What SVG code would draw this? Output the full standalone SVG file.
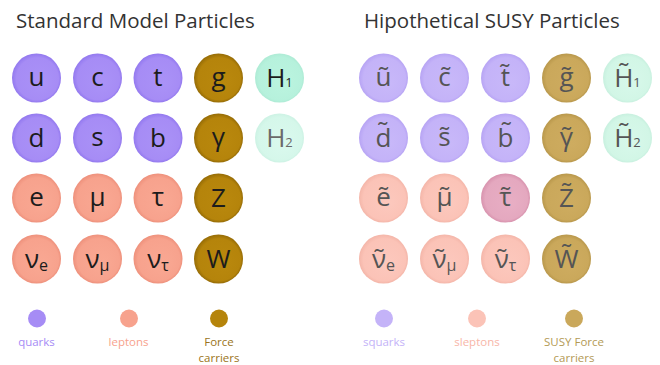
<svg xmlns="http://www.w3.org/2000/svg" width="660" height="365" viewBox="0 0 660 365">
<defs>
<radialGradient id="gq" cx="50%" cy="50%" r="50%" fx="64%" fy="62%"><stop offset="0" stop-color="#aa92f7"/><stop offset="0.86" stop-color="#a68cf5"/><stop offset="1" stop-color="#9379ef"/></radialGradient>
<radialGradient id="gl" cx="50%" cy="50%" r="50%" fx="64%" fy="62%"><stop offset="0" stop-color="#f9a893"/><stop offset="0.86" stop-color="#f7a28d"/><stop offset="1" stop-color="#ee917c"/></radialGradient>
<radialGradient id="gf" cx="50%" cy="50%" r="50%" fx="64%" fy="62%"><stop offset="0" stop-color="#b9880d"/><stop offset="0.86" stop-color="#b5840b"/><stop offset="1" stop-color="#966c06"/></radialGradient>
<radialGradient id="gh1" cx="50%" cy="50%" r="50%" fx="64%" fy="62%"><stop offset="0" stop-color="#bbf4df"/><stop offset="0.88" stop-color="#b6f1dc"/><stop offset="1" stop-color="#aeebd5"/></radialGradient>
<radialGradient id="gh2" cx="50%" cy="50%" r="50%" fx="64%" fy="62%"><stop offset="0" stop-color="#daf9ee"/><stop offset="0.88" stop-color="#d5f7ea"/><stop offset="1" stop-color="#cdf2e4"/></radialGradient>
<radialGradient id="sq" cx="50%" cy="50%" r="50%" fx="64%" fy="62%"><stop offset="0" stop-color="#c8b8f9"/><stop offset="0.86" stop-color="#c4b3f8"/><stop offset="1" stop-color="#b7a4f4"/></radialGradient>
<radialGradient id="sl" cx="50%" cy="50%" r="50%" fx="64%" fy="62%"><stop offset="0" stop-color="#fcc8bd"/><stop offset="0.86" stop-color="#fbc3b7"/><stop offset="1" stop-color="#f4b6a9"/></radialGradient>
<radialGradient id="st" cx="50%" cy="50%" r="50%" fx="64%" fy="62%"><stop offset="0" stop-color="#e8aec4"/><stop offset="0.86" stop-color="#e4a8bf"/><stop offset="1" stop-color="#d893ae"/></radialGradient>
<radialGradient id="sf" cx="50%" cy="50%" r="50%" fx="64%" fy="62%"><stop offset="0" stop-color="#ceac60"/><stop offset="0.86" stop-color="#caa85b"/><stop offset="1" stop-color="#b9984c"/></radialGradient>
<radialGradient id="sh" cx="50%" cy="50%" r="50%" fx="64%" fy="62%"><stop offset="0" stop-color="#d7f8ea"/><stop offset="0.88" stop-color="#d2f6e6"/><stop offset="1" stop-color="#c8f0df"/></radialGradient>
</defs>
<style>
text{font-family:"Open Sans","Noto Sans","DejaVu Sans",sans-serif;}
.title{font-size:20.5px;fill:#333;}
.p{font-size:26px;text-anchor:middle;fill:#1c1c1c;}
.ps{font-size:26px;text-anchor:middle;fill:#555;}
.h2{fill:#6a6a6a;}
.sub{font-size:13px;}
.subn{font-size:16px;}
.leg{font-size:11.5px;text-anchor:middle;}
</style>
<rect width="660" height="365" fill="#ffffff"/>
<text class="title" x="16" y="28">Standard Model Particles</text>
<text class="title" x="364" y="28">Hipothetical SUSY Particles</text>

<g id="sm-u"><circle cx="36.5" cy="78" r="24.5" fill="url(#gq)"/><text class="p" x="36.5" y="86">u</text></g>
<g id="sm-c"><circle cx="97.5" cy="78" r="24.5" fill="url(#gq)"/><text class="p" x="97.5" y="86">c</text></g>
<g id="sm-t"><circle cx="158" cy="78" r="24.5" fill="url(#gq)"/><text class="p" x="158" y="86">t</text></g>
<g id="sm-g"><circle cx="218.5" cy="78" r="24.5" fill="url(#gf)"/><text class="p" x="218.5" y="86">g</text></g>
<g id="sm-h1"><circle cx="279.5" cy="78" r="24.5" fill="url(#gh1)"/><text class="p" x="279.5" y="87">H<tspan class="sub">1</tspan></text></g>

<g id="sm-d"><circle cx="36.5" cy="138" r="24.5" fill="url(#gq)"/><text class="p" x="36.5" y="147">d</text></g>
<g id="sm-s"><circle cx="97.5" cy="138" r="24.5" fill="url(#gq)"/><text class="p" x="97.5" y="146">s</text></g>
<g id="sm-b"><circle cx="158" cy="138" r="24.5" fill="url(#gq)"/><text class="p" x="158" y="147">b</text></g>
<g id="sm-gamma"><circle cx="218.5" cy="138" r="24.5" fill="url(#gf)"/><text class="p" x="218.5" y="146">γ</text></g>
<g id="sm-h2"><circle cx="279.5" cy="138" r="24.5" fill="url(#gh2)"/><text class="p h2" x="279.5" y="147">H<tspan class="sub">2</tspan></text></g>

<g id="sm-e"><circle cx="36.5" cy="198" r="24.5" fill="url(#gl)"/><text class="p" x="36.5" y="206">e</text></g>
<g id="sm-mu"><circle cx="97.5" cy="198" r="24.5" fill="url(#gl)"/><text class="p" x="97.5" y="206">μ</text></g>
<g id="sm-tau"><circle cx="158" cy="198" r="24.5" fill="url(#gl)"/><text class="p" x="158" y="206">τ</text></g>
<g id="sm-z"><circle cx="218.5" cy="198" r="24.5" fill="url(#gf)"/><text class="p" x="218.5" y="207">Z</text></g>

<g id="sm-ve"><circle cx="36.5" cy="259" r="24.5" fill="url(#gl)"/><text class="p" x="36.5" y="268">ν<tspan class="subn" dy="3">e</tspan></text></g>
<g id="sm-vmu"><circle cx="97.5" cy="259" r="24.5" fill="url(#gl)"/><text class="p" x="97.5" y="268">ν<tspan class="subn" dy="3">μ</tspan></text></g>
<g id="sm-vtau"><circle cx="158" cy="259" r="24.5" fill="url(#gl)"/><text class="p" x="158" y="268">ν<tspan class="subn" dy="3">τ</tspan></text></g>
<g id="sm-w"><circle cx="218.5" cy="259" r="24.5" fill="url(#gf)"/><text class="p" x="218.5" y="268">W</text></g>

<g id="susy-u"><circle cx="383.5" cy="78" r="24.5" fill="url(#sq)"/><text class="ps" x="383.5" y="86">u&#x34F;&#x303;</text></g>
<g id="susy-c"><circle cx="444.5" cy="78" r="24.5" fill="url(#sq)"/><text class="ps" x="444.5" y="86">c&#x303;</text></g>
<g id="susy-t"><circle cx="505.5" cy="78" r="24.5" fill="url(#sq)"/><text class="ps" x="505.5" y="86">t&#x303;</text></g>
<g id="susy-g"><circle cx="566.5" cy="78" r="24.5" fill="url(#sf)"/><text class="ps" x="566.5" y="86">g&#x303;</text></g>
<g id="susy-h1"><circle cx="627.5" cy="78" r="24.5" fill="url(#sh)"/><text class="ps" x="627.5" y="87">H&#x303;<tspan class="sub">1</tspan></text></g>

<g id="susy-d"><circle cx="383.5" cy="138" r="24.5" fill="url(#sq)"/><text class="ps" x="383.5" y="147">d&#x303;</text></g>
<g id="susy-s"><circle cx="444.5" cy="138" r="24.5" fill="url(#sq)"/><text class="ps" x="444.5" y="146">s&#x303;</text></g>
<g id="susy-b"><circle cx="505.5" cy="138" r="24.5" fill="url(#sq)"/><text class="ps" x="505.5" y="147">b&#x303;</text></g>
<g id="susy-gamma"><circle cx="566.5" cy="138" r="24.5" fill="url(#sf)"/><text class="ps" x="566.5" y="146">γ&#x303;</text></g>
<g id="susy-h2"><circle cx="627.5" cy="138" r="24.5" fill="url(#sh)"/><text class="ps" x="627.5" y="147">H&#x303;<tspan class="sub">2</tspan></text></g>

<g id="susy-e"><circle cx="383.5" cy="198" r="24.5" fill="url(#sl)"/><text class="ps" x="383.5" y="206">e&#x34F;&#x303;</text></g>
<g id="susy-mu"><circle cx="444.5" cy="198" r="24.5" fill="url(#sl)"/><text class="ps" x="444.5" y="206">μ&#x303;</text></g>
<g id="susy-tau"><circle cx="505.5" cy="198" r="24.5" fill="url(#st)"/><text class="ps" x="505.5" y="206">τ&#x303;</text></g>
<g id="susy-z"><circle cx="566.5" cy="198" r="24.5" fill="url(#sf)"/><text class="ps" x="566.5" y="207">Z&#x303;</text></g>

<g id="susy-ve"><circle cx="383.5" cy="259" r="24.5" fill="url(#sl)"/><text class="ps" x="383.5" y="268">ν&#x303;<tspan class="subn" dy="3">e</tspan></text></g>
<g id="susy-vmu"><circle cx="444.5" cy="259" r="24.5" fill="url(#sl)"/><text class="ps" x="444.5" y="268">ν&#x303;<tspan class="subn" dy="3">μ</tspan></text></g>
<g id="susy-vtau"><circle cx="505.5" cy="259" r="24.5" fill="url(#sl)"/><text class="ps" x="505.5" y="268">ν&#x303;<tspan class="subn" dy="3">τ</tspan></text></g>
<g id="susy-w"><circle cx="566.5" cy="259" r="24.5" fill="url(#sf)"/><text class="ps" x="566.5" y="268">W&#x303;</text></g>

<g id="legend-quarks"><circle cx="37" cy="318.5" r="9" fill="#a68cf5"/><text class="leg" x="36.5" y="346" fill="#a68cf5">quarks</text></g>
<g id="legend-leptons"><circle cx="129" cy="318.5" r="9" fill="#f7a28d"/><text class="leg" x="128.5" y="346" fill="#f7a28d">leptons</text></g>
<g id="legend-force"><circle cx="219" cy="318.5" r="9" fill="#b5840b"/><text class="leg" x="219" y="346" fill="#9a7420">Force</text><text class="leg" x="219" y="362" fill="#9a7420">carriers</text></g>

<g id="legend-squarks"><circle cx="384" cy="318.5" r="9" fill="#c4b3f8"/><text class="leg" x="384" y="346" fill="#c4b3f8">squarks</text></g>
<g id="legend-sleptons"><circle cx="477" cy="318.5" r="9" fill="#fbc3b7"/><text class="leg" x="477" y="346" fill="#f8b6a8">sleptons</text></g>
<g id="legend-susy-force"><circle cx="574" cy="318.5" r="9" fill="#caa85b"/><text class="leg" x="574" y="346" fill="#b39a55">SUSY Force</text><text class="leg" x="574" y="362" fill="#b39a55">carriers</text></g>
</svg>
